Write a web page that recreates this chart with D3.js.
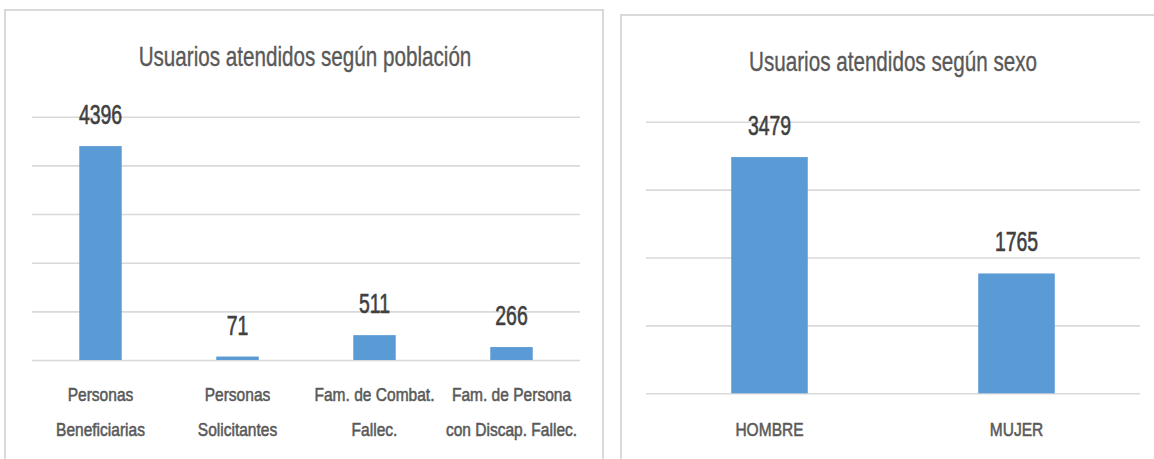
<!DOCTYPE html>
<html>
<head>
<meta charset="utf-8">
<script src="https://cdn.jsdelivr.net/npm/d3@7"></script>
<style>
  html, body { margin: 0; padding: 0; background: #ffffff; }
  svg { display: block; }
  text { font-family: "Liberation Sans", Arial, sans-serif; }
</style>
</head>
<body>
<script>
// ---- Data ----
const titlePoblacion = "Usuarios atendidos según población";
const categoriesPoblacion = ["Personas\nBeneficiarias", "Personas\nSolicitantes", "Fam. de Combat.\nFallec.", "Fam. de Persona\ncon Discap. Fallec."];
const valuesPoblacion = [4396, 71, 511, 266];
const ticksPoblacion = [0, 1000, 2000, 3000, 4000, 5000];

const titleSexo = "Usuarios atendidos según sexo";
const categoriesSexo = ["HOMBRE", "MUJER"];
const valuesSexo = [3479, 1765];
const ticksSexo = [0, 1000, 2000, 3000, 4000];

// ---- Drawing ----
const W = 1154, H = 459;
const svg = d3.select("body").append("svg").attr("width", W).attr("height", H);

const BAR = "#5B9BD5", GRID = "#d9d9d9", BORDER = "#d9d9d9";
const TITLE_C = "#595959", LABEL_C = "#404040", CAT_C = "#595959";

function drawPanel(o) {
  // panel border
  svg.append("rect")
    .attr("x", o.frame[0]).attr("y", o.frame[1])
    .attr("width", o.frame[2]).attr("height", o.frame[3])
    .attr("fill", "none").attr("stroke", BORDER).attr("stroke-width", 2);

  const x = d3.scaleBand().domain(o.categories).range([o.x0, o.x1])
    .paddingInner(0.69).paddingOuter(0.345);
  const y = d3.scaleLinear().domain([o.ticks[0], o.ticks[o.ticks.length - 1]]).range([o.y0, o.y1]);

  // gridlines
  const grid = svg.append("g").attr("transform", `translate(${o.x0},0)`)
    .call(d3.axisLeft(y).tickValues(o.ticks).tickSize(-(o.x1 - o.x0)).tickFormat(""));
  grid.select(".domain").remove();
  grid.selectAll(".tick line").attr("stroke", GRID).attr("stroke-width", 1.6);

  // title
  svg.append("text")
    .attr("transform", `translate(${o.titlePos[0]},${o.titlePos[1]}) scale(0.765,1)`)
    .attr("text-anchor", "middle").attr("font-size", 27).attr("fill", TITLE_C)
    .attr("stroke", TITLE_C).attr("stroke-width", 0.35)
    .text(o.title);

  // bars
  const data = o.categories.map((c, i) => ({ c, v: o.values[i] }));
  svg.append("g").selectAll("rect").data(data).join("rect")
    .attr("x", d => x(d.c)).attr("width", x.bandwidth())
    .attr("y", d => y(d.v)).attr("height", d => y(0) - y(d.v))
    .attr("fill", BAR);

  // value labels
  svg.append("g").selectAll("text").data(data).join("text")
    .attr("transform", d => `translate(${x(d.c) + x.bandwidth() / 2},${y(d.v) - 22}) scale(0.72,1)`)
    .attr("text-anchor", "middle").attr("font-size", 27).attr("fill", LABEL_C)
    .attr("stroke", LABEL_C).attr("stroke-width", 0.6)
    .text(d => d.v);

  // category axis
  const ax = svg.append("g").attr("transform", `translate(0,${o.y0})`)
    .call(d3.axisBottom(x).tickSize(0).tickPadding(0));
  ax.select(".domain").remove();
  ax.selectAll(".tick text").each(function(d) {
    const t = d3.select(this);
    t.text(null).attr("y", 0).attr("dy", null)
      .attr("transform", "scale(0.84,1)")
      .attr("font-size", 18.5).attr("fill", CAT_C)
      .attr("stroke", CAT_C).attr("stroke-width", 0.55)
      .attr("font-family", "'Liberation Sans', Arial, sans-serif");
    d.split("\n").forEach((line, i) => {
      t.append("tspan").attr("x", 0).attr("y", o.labelOffset + i * 35).text(line);
    });
  });
}

drawPanel({
  frame: [5, 10, 598, 520],
  x0: 32, x1: 580, y0: 360, y1: 116.7,
  title: titlePoblacion, titlePos: [305, 66],
  categories: categoriesPoblacion, values: valuesPoblacion, ticks: ticksPoblacion,
  labelOffset: 41
});

drawPanel({
  frame: [621, 15, 620, 520],
  x0: 646, x1: 1140, y0: 393.3, y1: 121.7,
  title: titleSexo, titlePos: [893, 71],
  categories: categoriesSexo, values: valuesSexo, ticks: ticksSexo,
  labelOffset: 43
});
</script>
</body>
</html>
